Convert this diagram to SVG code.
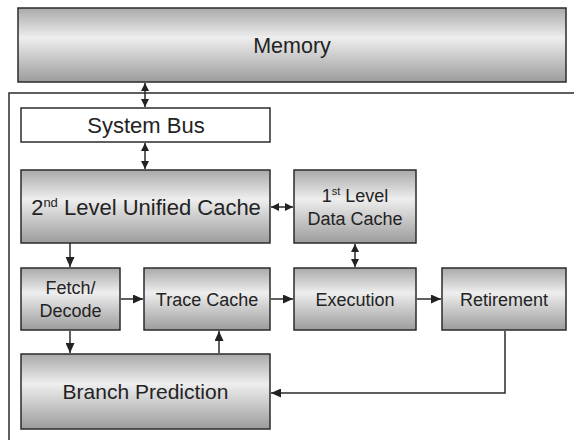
<svg xmlns="http://www.w3.org/2000/svg" width="574" height="440" viewBox="0 0 574 440">
  <defs>
    <linearGradient id="boxFill" x1="0" y1="0" x2="0" y2="1">
      <stop offset="0" stop-color="#a9a9a9"/>
      <stop offset="0.4" stop-color="#eeeeee"/>
      <stop offset="1" stop-color="#9c9c9c"/>
    </linearGradient>
    <marker id="arrow" viewBox="0 0 10 9" refX="10" refY="4.5" markerWidth="10" markerHeight="9" markerUnits="userSpaceOnUse" orient="auto-start-reverse">
      <path d="M0,0 L10,4.5 L0,9 z" fill="#222"/>
    </marker>
    <marker id="arrowSmall" viewBox="0 0 8 8" refX="8" refY="4" markerWidth="8" markerHeight="8" markerUnits="userSpaceOnUse" orient="auto-start-reverse">
      <path d="M0,0 L8,4 L0,8 z" fill="#222"/>
    </marker>
  </defs>
  <style>
    .box { fill: url(#boxFill); stroke: #2b2b2b; stroke-width: 1.5; }
    .plain { fill: #ffffff; stroke: #2b2b2b; stroke-width: 1.5; }
    .label { font-family: "Liberation Sans", Arial, sans-serif; fill: #232323; text-anchor: middle; }
    .wire { fill: none; stroke: #2b2b2b; stroke-width: 1.5; }
    .one { marker-end: url(#arrow); }
    .two { marker-start: url(#arrowSmall); marker-end: url(#arrowSmall); }
  </style>

  <rect width="574" height="440" fill="#ffffff"/>

  <!-- processor boundary -->
  <polyline class="wire" points="574,93 9,93 9,440"/>

  <g id="memory">
    <rect class="box" x="18" y="8" width="548" height="74"/>
    <text class="label" x="292" y="52.5" font-size="21.5">Memory</text>
  </g>

  <g id="system-bus">
    <rect class="plain" x="21" y="108" width="249" height="34"/>
    <text class="label" x="146" y="132.5" font-size="22">System Bus</text>
  </g>

  <g id="l2-cache">
    <rect class="box" x="21" y="170" width="249" height="73"/>
    <text class="label" x="146" y="214.5" font-size="22">2<tspan font-size="13" dy="-8">nd</tspan><tspan dy="8"> Level Unified Cache</tspan></text>
  </g>

  <g id="l1-data-cache">
    <rect class="box" x="294" y="170" width="122" height="73"/>
    <text class="label" x="355" y="201.5" font-size="18">1<tspan font-size="11" dy="-7">st</tspan><tspan dy="7"> Level</tspan></text>
    <text class="label" x="355" y="225" font-size="18">Data Cache</text>
  </g>

  <g id="fetch-decode">
    <rect class="box" x="21" y="268" width="99" height="62"/>
    <text class="label" x="70.5" y="293.5" font-size="18">Fetch/</text>
    <text class="label" x="70.5" y="316.5" font-size="18">Decode</text>
  </g>

  <g id="trace-cache">
    <rect class="box" x="144" y="268" width="126" height="62"/>
    <text class="label" x="207" y="306" font-size="18">Trace Cache</text>
  </g>

  <g id="execution">
    <rect class="box" x="294" y="268" width="122" height="62"/>
    <text class="label" x="355" y="306" font-size="18">Execution</text>
  </g>

  <g id="retirement">
    <rect class="box" x="442" y="268" width="124" height="62"/>
    <text class="label" x="504" y="306" font-size="18">Retirement</text>
  </g>

  <g id="branch-prediction">
    <rect class="box" x="21" y="354" width="249" height="75"/>
    <text class="label" x="145.5" y="399" font-size="21">Branch Prediction</text>
  </g>

  <g id="connectors">
    <line class="wire two" x1="145" y1="83" x2="145" y2="107"/>
    <line class="wire two" x1="145" y1="143" x2="145" y2="169"/>
    <line class="wire two" x1="271" y1="207" x2="293" y2="207"/>
    <line class="wire two" x1="355" y1="244" x2="355" y2="267"/>
    <line class="wire one" x1="70" y1="243" x2="70" y2="267"/>
    <line class="wire one" x1="121" y1="299" x2="143" y2="299"/>
    <line class="wire one" x1="271" y1="299" x2="293" y2="299"/>
    <line class="wire one" x1="417" y1="299" x2="441" y2="299"/>
    <line class="wire one" x1="70" y1="331" x2="70" y2="353"/>
    <line class="wire one" x1="219" y1="353" x2="219" y2="331"/>
    <polyline class="wire one" points="505,331 505,393 271,393"/>
  </g>
</svg>
